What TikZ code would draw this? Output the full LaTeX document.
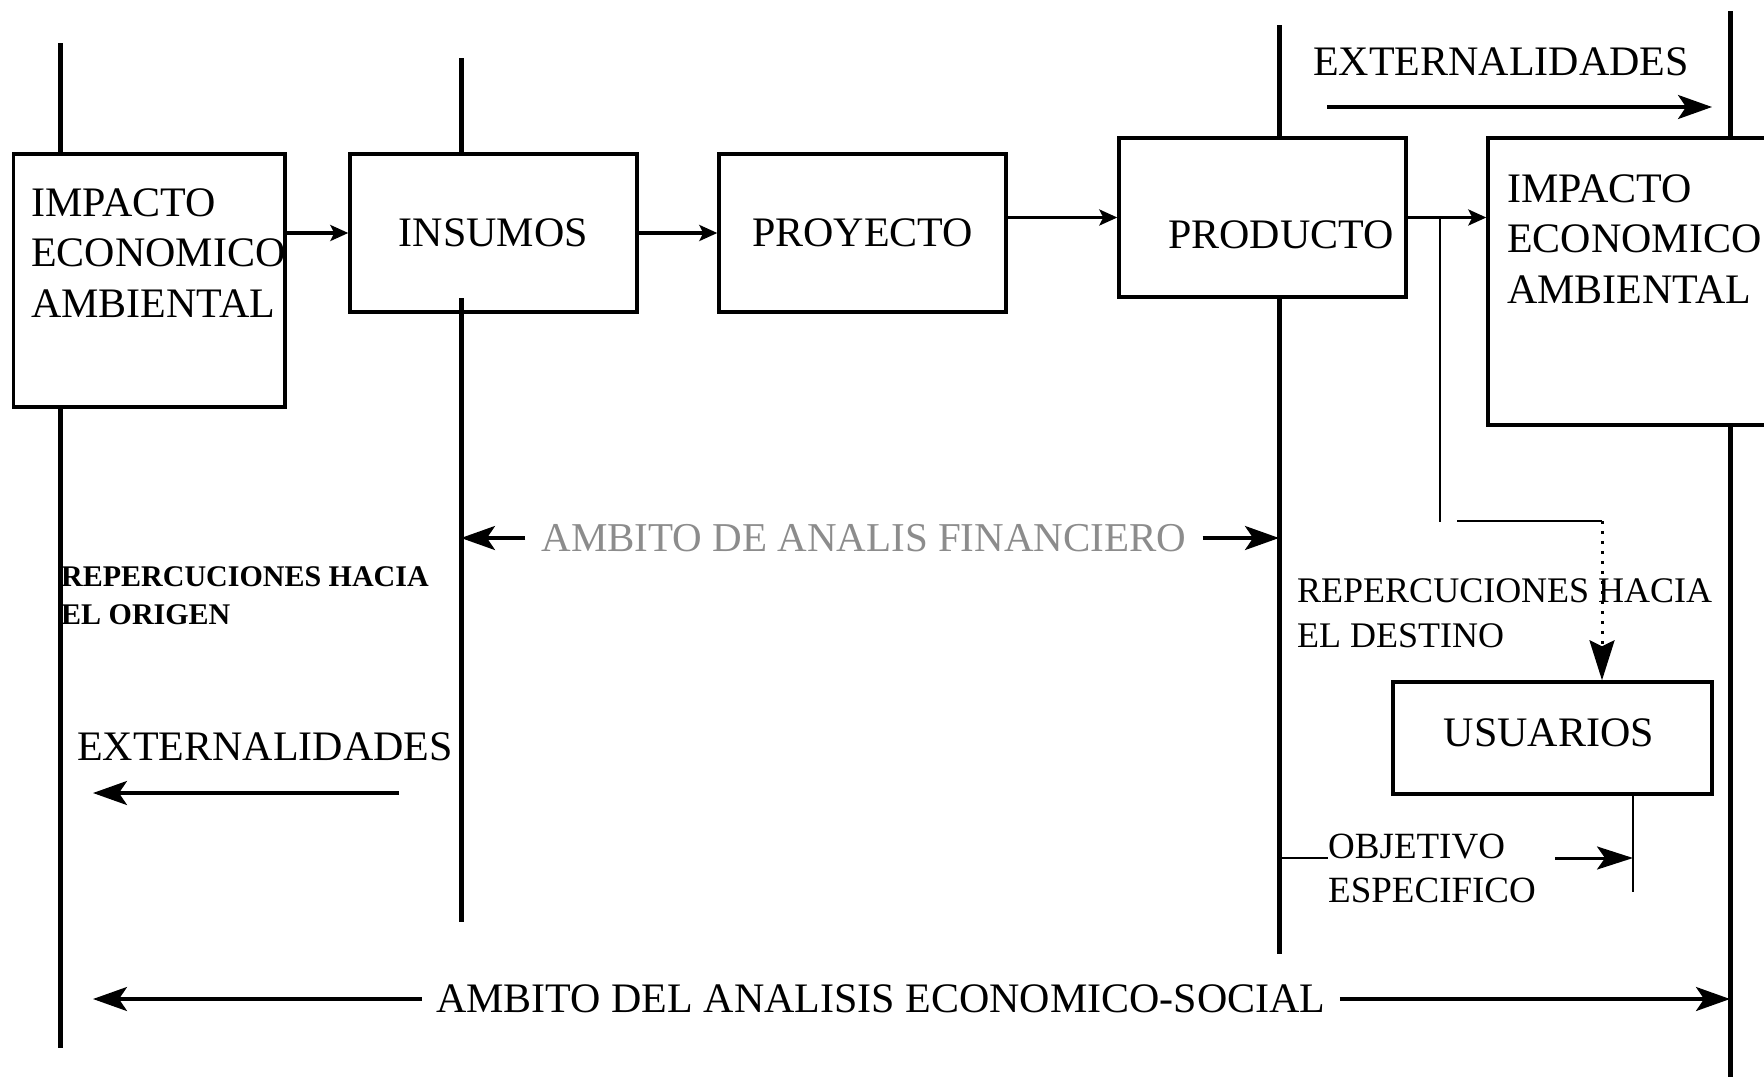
\documentclass[tikz,border=0pt]{standalone}
\usepackage{fontspec}
\setmainfont{Liberation Serif}
\usetikzlibrary{arrows.meta}
\begin{document}
\begin{tikzpicture}[x=1pt,y=-1pt,
  vline/.style={line width=5pt},
  box/.style={draw, line width=3.4pt, fill=white, inner sep=0pt},
  conn/.style={line width=3.2pt, -{Stealth[length=18pt,width=16pt,inset=4pt]}},
  bigarrow/.style={line width=3.2pt, -{Stealth[length=34pt,width=24pt,inset=8pt]}},
  thinline/.style={line width=2.8pt},
  dotarrow/.style={line width=3pt, dash pattern=on 3pt off 7pt, -{Stealth[length=40pt,width=25pt,inset=6pt]}},
  bigtxt/.style={font=\fontsize{42}{50.5}\selectfont, inner sep=0pt},
  midtxt/.style={font=\fontsize{36}{45}\selectfont, inner sep=0pt, align=left},
  objtxt/.style={font=\fontsize{37}{44}\selectfont, inner sep=0pt, align=left},
  origtxt/.style={font=\bfseries\fontsize{30}{38}\selectfont, inner sep=0pt, align=left},
  fintxt/.style={font=\fontsize{41}{41}\selectfont, text=black!45, inner ysep=0pt, inner xsep=16pt},
  ecotxt/.style={font=\fontsize{42}{42}\selectfont, inner ysep=0pt, inner xsep=14pt}]
\useasboundingbox (0,0) rectangle (1764,1077);
\clip (0,0) rectangle (1764,1077);

% boxes
\node[box, minimum width=271.5pt, minimum height=253pt] (impL) at (149.25,280.5) {};
\node[box, bigtxt, minimum width=287pt, minimum height=158pt] (ins) at (493.5,233) {INSUMOS};
\node[box, bigtxt, minimum width=287pt, minimum height=158pt] (proy) at (862.5,233) {PROYECTO};
\node[box, minimum width=287pt, minimum height=159pt] (prod) at (1262.5,217.5) {};
\node[box, minimum width=312pt, minimum height=287pt] (impR) at (1644,281.5) {};
\node[box, bigtxt, minimum width=319pt, minimum height=112pt] (usu) at (1552.5,738) {};

% box texts
\node[bigtxt, align=left, anchor=north west] (impLt) at (31,188) {IMPACTO\\ECONOMICO\\AMBIENTAL};
\node[bigtxt, align=left, anchor=north west] (impRt) at (1507,174) {IMPACTO\\ECONOMICO\\AMBIENTAL};
\node[bigtxt, anchor=base] (prodt) at (1281,248) {PRODUCTO};
\node[bigtxt, anchor=base] (usut) at (1549,746) {USUARIOS};

% vertical lines
\coordinate (lTop) at (60,43);   \coordinate (lBot) at (60,1048);
\coordinate (iTop) at (461,58);  \coordinate (iIn) at (461,298); \coordinate (iBot) at (461,922);
\coordinate (pTop) at (1279,25); \coordinate (pBot) at (1279,954);
\coordinate (rTop) at (1730,11); \coordinate (rBot) at (1730,1077);
\draw[vline] (lTop) -- (lTop |- impL.north);
\draw[vline] (lTop |- impL.south) -- (lBot);
\draw[vline] (iTop) -- (iTop |- ins.north);
\draw[vline] (iIn) -- (iBot);
\draw[vline] (pTop) -- (pTop |- prod.north);
\draw[vline] (pTop |- prod.south) -- (pBot);
\draw[vline] (rTop) -- (rTop |- impR.north);
\draw[vline] (rTop |- impR.south) -- (rBot);

% flow arrows
\draw[conn] (impL.east |- ins.west) -- (ins.west);
\draw[conn] (ins.east) -- (proy.west);
\draw[conn] (proy.east |- prod.west) -- (prod.west);
\draw[conn] (prod.east) -- (prod.east -| impR.west);

% branch to usuarios
\coordinate (br) at (1440,217.5);
\coordinate (brB) at (1440,522);
\coordinate (hL) at (1457,521);
\coordinate (hR) at (1602,521);
\draw[thinline] (br) -- (brB);
\draw[thinline] (hL) -- (hR);
\draw[dotarrow] (hR) -- (hR |- usu.north);

% usuarios / objetivo
\coordinate (uB) at (1633,892);
\draw[thinline] (uB |- usu.south) -- (uB);
\coordinate (objT) at (1555,858);
\draw[line width=3pt, -{Stealth[length=36pt,width=23pt,inset=8pt]}] (objT) -- (objT -| uB);
\coordinate (pObj) at (1279,858);
\coordinate (objL) at (1328,858);
\draw[thinline] (pObj) -- (objL);
\node[objtxt, anchor=north west] (obj) at (1328,834) {OBJETIVO\\ESPECIFICO};

% externalidades
\node[bigtxt, anchor=base west] (extT) at (1313,75) {EXTERNALIDADES};
\coordinate (eTa) at (1327,107); \coordinate (eTb) at (1712,107);
\draw[bigarrow] (eTa) -- (eTb);
\node[bigtxt, anchor=base west] (extL) at (77,760) {EXTERNALIDADES};
\coordinate (eLa) at (399,793); \coordinate (eLb) at (93,793);
\draw[bigarrow] (eLa) -- (eLb);

% repercusiones
\node[origtxt, anchor=north west] (repL) at (61,566) {REPERCUCIONES HACIA\\EL ORIGEN};
\node[midtxt, anchor=north west] (repR) at (1297,578) {REPERCUCIONES HACIA\\EL DESTINO};

% ambitos
\node[fintxt] (fin) at (864,538) {AMBITO DE ANALIS FINANCIERO};
\draw[bigarrow] (fin.west) -- (fin.west -| iTop);
\draw[bigarrow] (fin.east) -- (fin.east -| pTop);
\node[ecotxt] (eco) at (881,999) {AMBITO DEL ANALISIS ECONOMICO-SOCIAL};
\coordinate (ecoL) at (93,999);
\draw[bigarrow] (eco.west) -- (ecoL);
\draw[bigarrow] (eco.east) -- (eco.east -| rTop);
\end{tikzpicture}
\end{document}
